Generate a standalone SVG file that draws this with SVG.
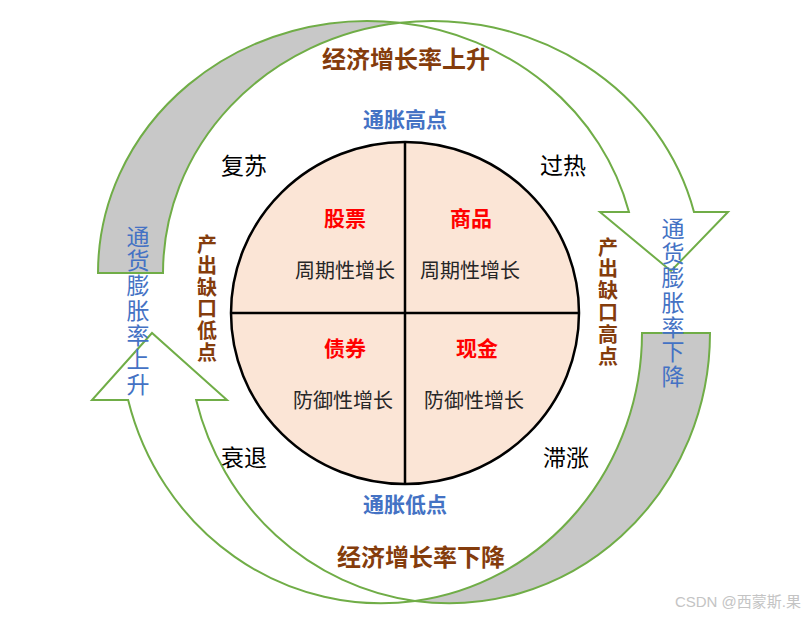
<svg xmlns="http://www.w3.org/2000/svg" width="805" height="618" viewBox="0 0 805 618">
<style>
.arr{stroke:#70AD47;stroke-width:2;stroke-linejoin:miter}
.back{fill:#C8C8C8}
.front{fill:#FFFFFF}
.t{font-family:"Noto Sans CJK SC","Liberation Serif",sans-serif;text-anchor:middle}
.v{font-family:"Noto Sans CJK SC","Liberation Serif",sans-serif;writing-mode:vertical-rl;text-anchor:start;text-orientation:upright}
.brown{fill:#843C0C;font-weight:bold}
.blue{fill:#4472C4;font-weight:bold}
.vblue{fill:#4472C4;font-weight:normal}
.red{fill:#FF0000;font-weight:bold}
.phase{fill:#000000}
.desc{fill:#262626}
</style>
<rect width="805" height="618" fill="#FFFFFF"/>
<g id="connectors">
  <g id="arrow-up-top">
    <path class="arr back" d="M98,273 A269.5,252 0 0 1 400,22.84 A269.5,252 0 0 0 163,273 Z"/>
    <path class="arr front" d="M400,22.84 A269.5,252 0 0 1 693.98,212 L728,212 L671,271 L600,212 L628.98,212 A269.5,252 0 0 0 400,22.84 Z"/>
  </g>
  <g id="arrow-down-bottom">
    <path class="arr back" d="M710,333 A261,270.3 0 0 1 415,601 A261,270.3 0 0 0 642,333 Z"/>
    <path class="arr front" d="M415,601 A261,270.3 0 0 1 128.15,400 L92,400 L152,333 L227,400 L196.15,400 A261,270.3 0 0 0 415,601 Z"/>
  </g>
</g>
<g id="clock">
  <ellipse cx="405" cy="313" rx="174" ry="171" fill="#FBE5D6" stroke="#000" stroke-width="2.5"/>
  <line x1="405" y1="142" x2="405" y2="484" stroke="#000" stroke-width="2.5"/>
  <line x1="231" y1="313" x2="579" y2="313" stroke="#000" stroke-width="2.5"/>
</g>
<g id="q-stocks">
  <text class="t red" x="345" y="226" font-size="21">股票</text>
  <text class="t desc" x="345" y="277.6" font-size="20">周期性增长</text>
</g>
<g id="q-commodities">
  <text class="t red" x="471" y="226" font-size="21">商品</text>
  <text class="t desc" x="470" y="277.6" font-size="20">周期性增长</text>
</g>
<g id="q-bonds">
  <text class="t red" x="345" y="356" font-size="21">债券</text>
  <text class="t desc" x="343" y="407.6" font-size="20">防御性增长</text>
</g>
<g id="q-cash">
  <text class="t red" x="477" y="356" font-size="21">现金</text>
  <text class="t desc" x="474" y="407.6" font-size="20">防御性增长</text>
</g>
<g id="phase-recovery"><text class="t phase" x="244" y="173.7" font-size="23">复苏</text></g>
<g id="phase-overheat"><text class="t phase" x="563" y="173.7" font-size="23">过热</text></g>
<g id="phase-recession"><text class="t phase" x="244" y="465.7" font-size="23">衰退</text></g>
<g id="phase-stagflation"><text class="t phase" x="566" y="465.7" font-size="23">滞涨</text></g>
<g id="label-growth-up"><text class="t brown" x="406" y="68" font-size="24">经济增长率上升</text></g>
<g id="label-growth-down"><text class="t brown" x="421" y="566" font-size="24">经济增长率下降</text></g>
<g id="label-inflation-high"><text class="t blue" x="405" y="127" font-size="21">通胀高点</text></g>
<g id="label-inflation-low"><text class="t blue" x="405" y="512" font-size="21">通胀低点</text></g>
<g id="label-gap-low"><text class="v brown" x="207" y="234" font-size="20" letter-spacing="1.6">产出缺口低点</text></g>
<g id="label-gap-high"><text class="v brown" x="608" y="237" font-size="20" letter-spacing="1.8">产出缺口高点</text></g>
<g id="label-cpi-up"><text class="v vblue" x="138" y="224.5" font-size="23" letter-spacing="1.7">通货膨胀率上升</text></g>
<g id="label-cpi-down"><text class="v vblue" x="673" y="217" font-size="23" letter-spacing="1.6">通货膨胀率下降</text></g>
<g id="watermark"><text x="801" y="607" font-size="15" fill="#C4C4C4" text-anchor="end" font-family="'Liberation Sans','Noto Sans CJK SC',sans-serif">CSDN @西蒙斯.果</text></g>
</svg>
